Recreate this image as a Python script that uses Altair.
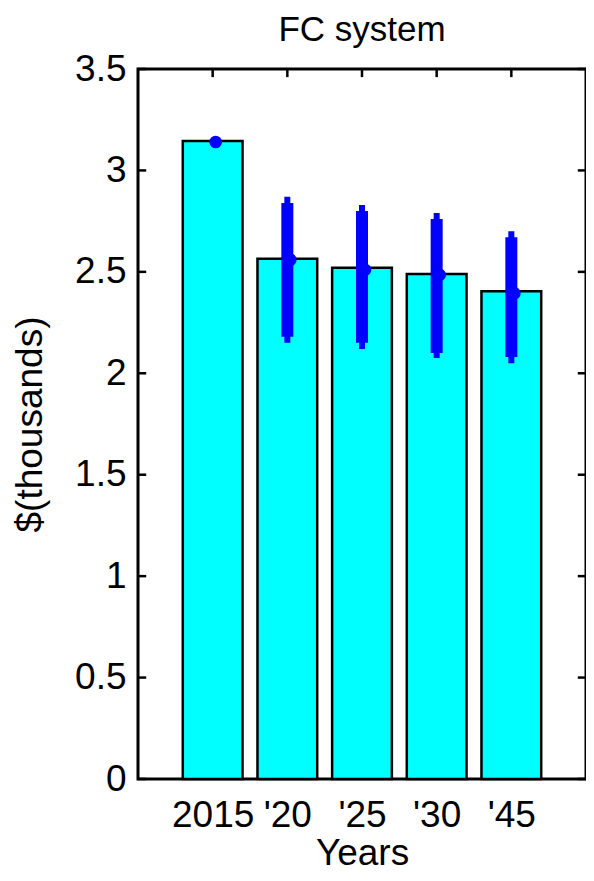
import altair as alt
import pandas as pd

# Data
labels = ["2015", "'20", "'25", "'30", "'45"]
positions = [1, 2, 3, 4, 5]
values = [3.145, 2.565, 2.52, 2.49, 2.405]
marker_vals = [3.14, 2.56, 2.51, 2.485, 2.395]
thick_lo = [None, 2.18, 2.15, 2.10, 2.08]
thick_hi = [None, 2.84, 2.80, 2.76, 2.67]
thin_lo = [None, 2.15, 2.12, 2.075, 2.05]
thin_hi = [None, 2.87, 2.83, 2.79, 2.70]
y_ticks = [0, 0.5, 1, 1.5, 2, 2.5, 3, 3.5]

df = pd.DataFrame({
    "label": labels, "pos": positions, "value": values, "mean": marker_vals,
    "tlo": thick_lo, "thi": thick_hi, "nlo": thin_lo, "nhi": thin_hi,
})
err = df.dropna()

FONT = "Liberation Sans"
xscale = alt.Scale(domain=[0, 6], nice=False, zero=False)
yscale = alt.Scale(domain=[0, 3.5], nice=False)

label_expr = "[" + ",".join("'" + l.replace("'", "\\'") + "'" for l in labels) + "][datum.value - 1]"

base = alt.Chart(df)

bars = base.transform_calculate(
    x0="datum.pos - 0.4", x1="datum.pos + 0.4"
).mark_bar(color="#00FFFF", stroke="black", strokeWidth=2.5).encode(
    x=alt.X("x0:Q", scale=xscale, axis=alt.Axis(
        values=positions, labelExpr=label_expr, title="Years", grid=False,
        ticks=False, domain=False, labelFontSize=37, titleFontSize=37,
        labelFont=FONT, titleFont=FONT, labelColor="black", titleColor="black",
        labelPadding=18, titleFontWeight="normal", titlePadding=2,
        labelFlush=False)),
    x2="x1:Q",
    y=alt.Y("value:Q", scale=yscale, axis=alt.Axis(
        values=y_ticks, format="~g", title="$(thousands)", grid=False,
        ticks=False, domain=False, labelFontSize=37, titleFontSize=37,
        labelFont=FONT, titleFont=FONT, labelColor="black", titleColor="black",
        labelPadding=12, titleFontWeight="normal", titlePadding=25)),
    y2=alt.datum(0),
)

marker = base.mark_circle(color="#0000FF", opacity=1, size=160).encode(
    x=alt.X("pos:Q", scale=xscale), y=alt.Y("mean:Q", scale=yscale),
    xOffset=alt.value(3),
)

thin = alt.Chart(err).mark_rule(color="#0000FF", strokeWidth=6).encode(
    x=alt.X("pos:Q", scale=xscale), y=alt.Y("nlo:Q", scale=yscale), y2="nhi:Q")
thick = alt.Chart(err).mark_rule(color="#0000FF", strokeWidth=12).encode(
    x=alt.X("pos:Q", scale=xscale), y=alt.Y("tlo:Q", scale=yscale), y2="thi:Q")

# inward ticks (MATLAB style)
yt = pd.DataFrame({"v": y_ticks})
left_ticks = alt.Chart(yt).mark_rule(color="black", strokeWidth=2.5).encode(
    y=alt.Y("v:Q", scale=yscale), x=alt.datum(0, scale=xscale), x2=alt.datum(0.11))
right_ticks = alt.Chart(yt).mark_rule(color="black", strokeWidth=2.5).encode(
    y=alt.Y("v:Q", scale=yscale), x=alt.datum(6, scale=xscale), x2=alt.datum(5.89))
xt = pd.DataFrame({"p": positions})
top_ticks = alt.Chart(xt).mark_rule(color="black", strokeWidth=2.5).encode(
    x=alt.X("p:Q", scale=xscale), y=alt.datum(3.5, scale=yscale), y2=alt.datum(3.46))

chart = alt.layer(bars, left_ticks, right_ticks, top_ticks, marker, thin, thick).properties(
    width=448, height=710,
    title=alt.TitleParams("FC system", font=FONT, fontSize=35, fontWeight="normal",
                          color="black", anchor="middle", offset=2),
    autosize=alt.AutoSizeParams(type="none"),
    padding={"left": 130, "top": 61, "right": 0, "bottom": 94},
).configure(background="white", view=alt.ViewConfig(stroke="black", strokeWidth=3))

chart.save("out.html", embed_options={"renderer": "svg", "actions": False})
